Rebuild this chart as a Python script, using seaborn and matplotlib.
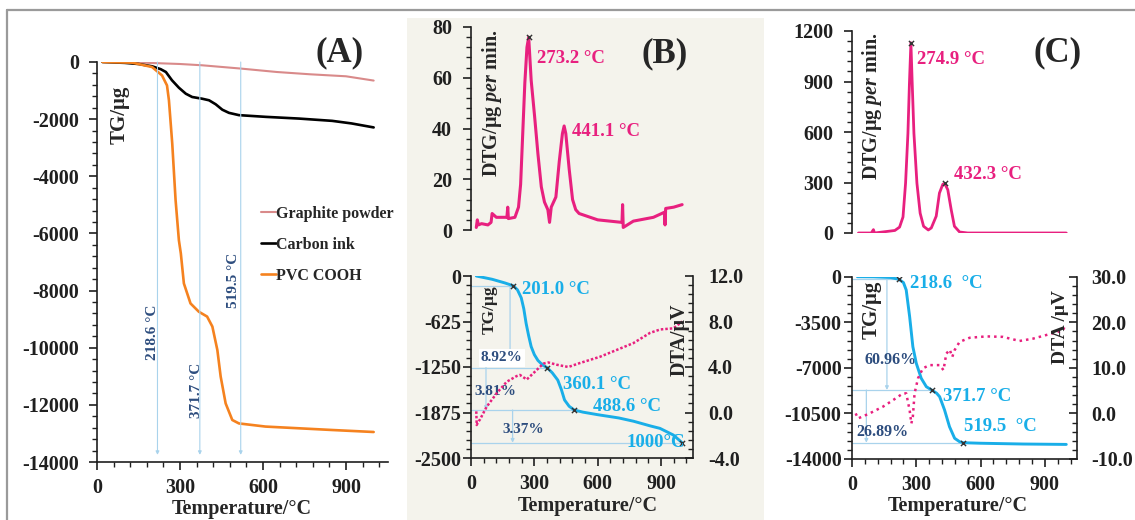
import matplotlib
matplotlib.use("Agg")
import matplotlib.pyplot as plt
import seaborn as sns
from matplotlib.ticker import MultipleLocator, FormatStrFormatter
from matplotlib.lines import Line2D
from matplotlib.patches import Rectangle

# ---------------- data ----------------
# (A) TG curves of the three materials
a_temp_graphite = [20, 170, 300, 380, 520, 650, 770, 900, 1000]
a_tg_graphite = [0, -25, -70, -115, -230, -350, -430, -500, -650]

a_temp_ink = [20, 100, 150, 199, 230, 249, 271, 296, 321, 344, 380, 405, 429,
              453, 477, 513, 610, 730, 850, 920, 1000]
a_tg_ink = [0, -30, -70, -150, -250, -350, -640, -900, -1110, -1225, -1285,
            -1340, -1480, -1670, -1780, -1860, -1920, -1980, -2060, -2150, -2290]

a_temp_pvc = [20, 127, 199, 235, 253, 260, 272, 284, 296, 303, 314, 338, 368,
              398, 417, 435, 447, 465, 489, 513, 609, 850, 1000]
a_tg_pvc = [0, -23, -175, -470, -820, -1340, -2860, -4830, -6240, -6700, -7750,
            -8450, -8740, -8910, -9260, -10080, -11010, -11950, -12530, -12650,
            -12760, -12880, -12950]

a_legend = ["Graphite powder", "Carbon ink", "PVC COOH"]
a_steps = [218.6, 371.7, 519.5]

# (B) carbon ink: DTG, TG and DTA
b_dtg_temp = [25, 30, 35, 50, 80, 95, 100, 120, 170, 174, 177, 208, 225, 235,
              245, 255, 265, 273.2, 285, 301, 317, 333, 348, 364, 372, 380,
              402, 418, 433, 441.1, 449, 465, 481, 496, 512, 600, 715, 718,
              721, 769, 864, 916, 919, 922, 960, 1000]
b_dtg = [1, 4, 2, 2.5, 2, 3, 6.5, 5, 5, 9, 4.5, 5, 9, 18, 38, 58, 72, 76, 59,
         45, 30, 17, 11, 8, 3, 9, 13, 27, 38, 41, 38, 24, 12, 8, 6.5, 4, 3, 10,
         1, 3.5, 5, 7, 2, 8.5, 9, 10]
b_peaks = [273.2, 441.1]
b_peak_vals = [76, 41]

b_tg_temp = [25, 100, 160, 201.0, 220, 238, 250, 261, 273, 285, 300, 317, 340,
             360.1, 385, 411, 428, 443, 465, 488.6, 530, 600, 700, 770, 850,
             895, 958, 1000]
b_tg = [0, -45, -95, -135, -190, -300, -450, -650, -820, -970, -1080, -1160,
        -1225, -1258, -1330, -1430, -1560, -1703, -1790, -1840, -1870, -1905,
        -1950, -1995, -2060, -2093, -2184, -2290]
b_marks = [201.0, 360.1, 488.6, 1000]
b_mark_tg = [-135, -1258, -1840, -2290]
b_mark_text = ["201.0 \u00b0C", "360.1 \u00b0C", "488.6 \u00b0C", "1000\u00b0C"]
b_losses = ["8.92%", "3.81%", "3.37%"]

b_dta_temp = [25, 27, 32, 43, 74, 122, 169, 216, 232, 264, 295, 343, 366, 406,
              461, 516, 611, 690, 769, 848, 896, 959, 1000]
b_dta = [0.1, -1.1, -0.9, -0.6, 0.5, 1.7, 2.7, 3.2, 3.3, 2.9, 3.45, 4.3, 4.4,
         4.2, 4.0, 4.35, 4.9, 5.5, 6.1, 7.0, 7.3, 7.4, 8.0]

# (C) PVC COOH: DTG, TG and DTA
c_dtg_temp = [30, 90, 100, 105, 200, 222, 238, 250, 261, 268, 274.9, 281, 289,
              303, 318, 334, 356, 370, 393, 408, 424, 432.3, 447, 463, 478,
              502, 540, 1000]
c_dtg = [0, 0, 20, 0, 15, 35, 95, 296, 592, 888, 1130, 888, 592, 296, 118, 40,
         18, 30, 100, 237, 290, 295, 257, 138, 40, 6, 0, 0]
c_peaks = [274.9, 432.3]
c_peak_vals = [1130, 295]

c_tg_temp = [25, 100, 180, 218.6, 240, 253, 269, 284, 300, 323, 347, 371.7,
             395, 409, 432, 455, 479, 502, 519.5, 600, 800, 1000]
c_tg = [0, -10, -60, -200, -450, -1020, -3070, -5375, -6650, -7800, -8450,
        -8700, -8950, -9215, -10240, -11520, -12410, -12670, -12750, -12790,
        -12850, -12880]
c_marks = [218.6, 371.7, 519.5]
c_mark_tg = [-200, -8700, -12750]
c_mark_text = ["218.6  \u00b0C", "371.7 \u00b0C", "519.5  \u00b0C"]
c_losses = ["60.96%", "26.89%"]

c_dta_temp = [17, 28, 82, 145, 191, 238, 253, 269, 277, 284, 292, 308, 331,
              362, 409, 427, 440, 456, 468, 479, 502, 549, 627, 704, 782, 844,
              922, 984, 992]
c_dta = [0.0, -1.1, 0.0, 1.5, 2.9, 4.4, 4.4, 0.7, -2.2, -0.7, 4.4, 7.7, 9.9,
         10.6, 10.6, 9.5, 13.1, 14.0, 12.4, 13.9, 15.7, 16.6, 16.9, 16.8, 15.9,
         16.4, 17.4, 18.2, 19.0]

# ---------------- style ----------------
sns.set_style("ticks", {"axes.axisbelow": False})
plt.rcParams["font.family"] = ["Liberation Serif", "DejaVu Serif"]
plt.rcParams["font.weight"] = "bold"
plt.rcParams["axes.unicode_minus"] = False
plt.rcParams["mathtext.fontset"] = "custom"
plt.rcParams["mathtext.rm"] = "Liberation Serif:bold"
plt.rcParams["mathtext.bf"] = "Liberation Serif:bold"
plt.rcParams["mathtext.it"] = "Liberation Serif:italic:bold"
plt.rcParams["xtick.color"] = "#1f1f1f"
plt.rcParams["ytick.color"] = "#1f1f1f"

PINK = "#e8207f"
BLUE = "#19aee8"
NAVY = "#2d4d7e"
REF = "#a9d3ec"
SPINE = "#1f1f1f"
TICK_FS = 14.5
LABEL_FS = 14.5

fig = plt.figure(figsize=(11.35, 5.2), dpi=100)
fig.patch.set_facecolor("white")

# beige backdrop behind the middle panel and the outer frame lines
fig.add_artist(Rectangle((407 / 1135, 0), (764 - 407) / 1135, (520 - 18) / 520,
                         transform=fig.transFigure, facecolor="#f4f3ec",
                         edgecolor="none", zorder=-1))
fig.add_artist(Line2D([7 / 1135, 1], [1 - 10 / 520, 1 - 10 / 520],
                      transform=fig.transFigure, color="#9a9a9a", lw=1.6))
fig.add_artist(Line2D([7 / 1135, 7 / 1135], [0, 1 - 10 / 520],
                      transform=fig.transFigure, color="#9a9a9a", lw=1.6))


def style_axis(ax, left=True, bottom=True, right=False, ypad=8):
    ax.set_facecolor("none")
    for side, show in (("left", left), ("bottom", bottom), ("right", right), ("top", False)):
        ax.spines[side].set_visible(show)
        ax.spines[side].set_color(SPINE)
        ax.spines[side].set_linewidth(1.2)
    ax.tick_params(which="major", direction="out", length=5.5, width=1.2,
                   color=SPINE, labelsize=TICK_FS, left=left, bottom=bottom)
    ax.tick_params(which="minor", direction="out", length=3.8, width=1.0,
                   color=SPINE, left=left, bottom=bottom)
    ax.tick_params(axis="y", pad=ypad)
    ax.tick_params(axis="x", pad=6)
    ax.set_xlim(0, 1050)
    if bottom:
        ax.xaxis.set_major_locator(MultipleLocator(300))
        ax.xaxis.set_minor_locator(MultipleLocator(60))
        ax.set_xlabel("Temperature/\u00b0C", fontsize=LABEL_FS, fontweight="bold",
                      va="center")
    else:
        ax.tick_params(axis="x", which="both", bottom=False, labelbottom=False)
        ax.set_xlabel("")
    ax.set_ylabel("")


def line(ax, x, y, **kw):
    sns.lineplot(x=x, y=y, ax=ax, estimator=None, sort=False, **kw)


dtg_label = "$\\mathbf{DTG/\u03bcg}\\ \\mathit{per}\\ \\mathbf{min.}$"

# ---------------- panel A ----------------
axA = fig.add_axes([97 / 1135, 58 / 520, 290.5 / 1135, 400 / 520])
line(axA, a_temp_graphite, a_tg_graphite, color="#d98a8a", linewidth=1.5, label=a_legend[0])
line(axA, a_temp_ink, a_tg_ink, color="black", linewidth=1.9, label=a_legend[1])
line(axA, a_temp_pvc, a_tg_pvc, color="#f5821f", linewidth=1.9, label=a_legend[2])
style_axis(axA, ypad=7.5)
axA.set_ylim(-14000, 0)
axA.yaxis.set_major_locator(MultipleLocator(2000))
axA.yaxis.set_minor_locator(MultipleLocator(400))
axA.xaxis.set_label_coords(0.497, -0.118)
for t, lx, ly in zip(a_steps, [199, 360, 493], [-9450, -11480, -7630]):
    axA.annotate("", xy=(t, -13750), xytext=(t, 0),
                 arrowprops=dict(arrowstyle="-|>", color=REF, lw=0.8,
                                 mutation_scale=5, shrinkA=0, shrinkB=0))
    axA.text(lx, ly, f"{t:.1f} \u00b0C", rotation=90, ha="center", va="center",
             color=NAVY, fontsize=11)
axA.text(875, 330, "(A)", fontsize=25, ha="center", va="center", clip_on=False)
axA.text(80, -1855, "TG/\u03bcg", rotation=90, fontsize=15, ha="center", va="center")
leg = axA.legend(loc="upper left", bbox_to_anchor=(0.565, 0.641), frameon=False,
                 fontsize=11.5, handlelength=0.9, handletextpad=0.05,
                 labelspacing=0.95, borderpad=0, borderaxespad=0)
for txt in leg.get_texts():
    txt.set_fontweight("bold")

# ---------------- panel B ----------------
axB1 = fig.add_axes([471 / 1135, 290 / 520, 221.7 / 1135, 203 / 520])
line(axB1, b_dtg_temp, b_dtg, color=PINK, linewidth=2.2)
style_axis(axB1, bottom=False, ypad=8)
axB1.set_ylim(0, 80)
axB1.yaxis.set_major_locator(MultipleLocator(20))
axB1.yaxis.set_minor_locator(MultipleLocator(4))
sns.scatterplot(x=b_peaks[:1], y=b_peak_vals[:1], ax=axB1, marker="x", s=14,
                color="#333333", linewidth=1, zorder=5)
axB1.text(b_peaks[0] + 40, 67.4, f"{b_peaks[0]:.1f} \u00b0C", color=PINK,
          fontsize=13.5, va="center")
axB1.text(b_peaks[1] + 37, 39, f"{b_peaks[1]:.1f} \u00b0C", color=PINK,
          fontsize=13.5, va="center")
axB1.text(919, 69.4, "(B)", fontsize=25, ha="center", va="center")
axB1.text(98, 50, dtg_label, rotation=90, fontsize=14.5, ha="center", va="center")

axB2 = fig.add_axes([471 / 1135, 62 / 520, 221.7 / 1135, 182 / 520])
line(axB2, b_tg_temp, b_tg, color=BLUE, linewidth=2.1, zorder=4)
style_axis(axB2, ypad=1.5)
axB2.set_ylim(-2500, 0)
axB2.yaxis.set_major_locator(MultipleLocator(625))
axB2.yaxis.set_minor_locator(MultipleLocator(125))
axB2.xaxis.set_label_coords(0.525, -0.262)
for t, g in zip(b_marks, b_mark_tg):
    axB2.plot([0, t], [g, g], color=REF, lw=0.9, zorder=1)
for x, g0, g1 in [(185, b_mark_tg[0], b_mark_tg[1]), (71, b_mark_tg[1], b_mark_tg[2]),
                  (197, b_mark_tg[2], b_mark_tg[3])]:
    axB2.annotate("", xy=(x, g1), xytext=(x, g0),
                  arrowprops=dict(arrowstyle="-|>", color=REF, lw=0.9,
                                  mutation_scale=5, shrinkA=0, shrinkB=0))
sns.scatterplot(x=b_marks, y=b_mark_tg, ax=axB2, marker="x", s=14,
                color="#333333", linewidth=1, zorder=6)
for (lx, ly), s in zip([(240, -183), (437, -1497), (576, -1795), (737, -2290)], b_mark_text):
    axB2.text(lx, ly, s, color=BLUE, fontsize=13.5, va="center", zorder=7)
axB2.text(145, -1126, b_losses[0], color=NAVY, fontsize=11, ha="center", va="center",
          bbox=dict(facecolor="white", edgecolor="none", pad=1.5), zorder=3)
axB2.text(114, -1590, b_losses[1], color=NAVY, fontsize=11, ha="center", va="center", zorder=3)
axB2.text(248, -2115, b_losses[2], color=NAVY, fontsize=11, ha="center", va="center", zorder=3)
axB2.text(90, -467, "TG/\u03bcg", rotation=90, fontsize=12.5, ha="center", va="center")

axB3 = axB2.twinx()
line(axB3, b_dta_temp, b_dta, color=PINK, linewidth=1.8, linestyle=(0, (1, 0.8)))
axB3.set_facecolor("none")
for side in ("top", "left", "bottom"):
    axB3.spines[side].set_visible(False)
axB3.spines["right"].set_color(SPINE)
axB3.spines["right"].set_linewidth(1.2)
axB3.set_ylim(-4, 12)
axB3.yaxis.set_major_locator(MultipleLocator(4))
axB3.yaxis.set_minor_locator(MultipleLocator(0.8))
axB3.yaxis.set_major_formatter(FormatStrFormatter("%.1f"))
axB3.tick_params(axis="y", which="major", direction="in", length=6, width=1.2,
                 color=SPINE, labelsize=TICK_FS, pad=11, right=True)
axB3.tick_params(axis="y", which="minor", direction="in", length=3.8, width=1.0,
                 color=SPINE, right=True)
axB3.set_ylabel("")
axB3.text(990, 6.4, "DTA/\u03bcV", rotation=90, fontsize=14.5, ha="center", va="center")

# ---------------- panel C ----------------
axC1 = fig.add_axes([852 / 1135, 287 / 520, 225 / 1135, 202 / 520])
line(axC1, c_dtg_temp, c_dtg, color=PINK, linewidth=2.0)
style_axis(axC1, bottom=False, ypad=8)
axC1.set_ylim(0, 1200)
axC1.yaxis.set_major_locator(MultipleLocator(300))
axC1.yaxis.set_minor_locator(MultipleLocator(60))
sns.scatterplot(x=c_peaks, y=c_peak_vals, ax=axC1, marker="x", s=14,
                color="#333333", linewidth=1, zorder=5)
axC1.text(302, 1028, f"{c_peaks[0]:.1f} \u00b0C", color=PINK, fontsize=13.5, va="center")
axC1.text(476, 345, f"{c_peaks[1]:.1f} \u00b0C", color=PINK, fontsize=13.5, va="center")
axC1.text(961, 1069, "(C)", fontsize=25, ha="center", va="center")
axC1.text(92, 754, dtg_label, rotation=90, fontsize=14.5, ha="center", va="center")

axC2 = fig.add_axes([852 / 1135, 61 / 520, 225 / 1135, 182.3 / 520])
line(axC2, c_tg_temp, c_tg, color=BLUE, linewidth=2.1, zorder=4)
style_axis(axC2, ypad=2)
axC2.set_ylim(-14000, 0)
axC2.yaxis.set_major_locator(MultipleLocator(3500))
axC2.yaxis.set_minor_locator(MultipleLocator(700))
axC2.xaxis.set_label_coords(0.469, -0.256)
for t, g in zip(c_marks, c_mark_tg):
    axC2.plot([0, t], [g, g], color=REF, lw=0.9, zorder=1)
for x, g0, g1 in [(163, c_mark_tg[0], c_mark_tg[1]), (67, c_mark_tg[1], c_mark_tg[2])]:
    axC2.annotate("", xy=(x, g1), xytext=(x, g0),
                  arrowprops=dict(arrowstyle="-|>", color=REF, lw=0.9,
                                  mutation_scale=5, shrinkA=0, shrinkB=0))
sns.scatterplot(x=c_marks, y=c_mark_tg, ax=axC2, marker="x", s=14,
                color="#333333", linewidth=1, zorder=6)
for (lx, ly), s in zip([(269, -510), (424, -9215), (525, -11520)], c_mark_text):
    axC2.text(lx, ly, s, color=BLUE, fontsize=13.5, va="center", zorder=7)
axC2.text(179, -6400, c_losses[0], color=NAVY, fontsize=11.5, ha="center", va="center", zorder=3)
axC2.text(140, -11900, c_losses[1], color=NAVY, fontsize=11.5, ha="center", va="center", zorder=3)
axC2.text(93, -2557, "TG/\u03bcg", rotation=90, fontsize=15, ha="center", va="center")

axC3 = axC2.twinx()
line(axC3, c_dta_temp, c_dta, color=PINK, linewidth=1.8, linestyle=(0, (1, 1.6)))
axC3.set_facecolor("none")
for side in ("top", "left", "bottom"):
    axC3.spines[side].set_visible(False)
axC3.spines["right"].set_color(SPINE)
axC3.spines["right"].set_linewidth(1.2)
axC3.set_ylim(-10, 30)
axC3.yaxis.set_major_locator(MultipleLocator(10))
axC3.yaxis.set_minor_locator(MultipleLocator(2))
axC3.yaxis.set_major_formatter(FormatStrFormatter("%.1f"))
axC3.tick_params(axis="y", which="major", direction="in", length=6, width=1.2,
                 color=SPINE, labelsize=TICK_FS, pad=10, right=True)
axC3.tick_params(axis="y", which="minor", direction="in", length=3.8, width=1.0,
                 color=SPINE, right=True)
axC3.set_ylabel("")
axC3.text(971, 18.9, "DTA /\u03bcV", rotation=90, fontsize=14, ha="center", va="center")

fig.savefig("out.png", dpi=100)
